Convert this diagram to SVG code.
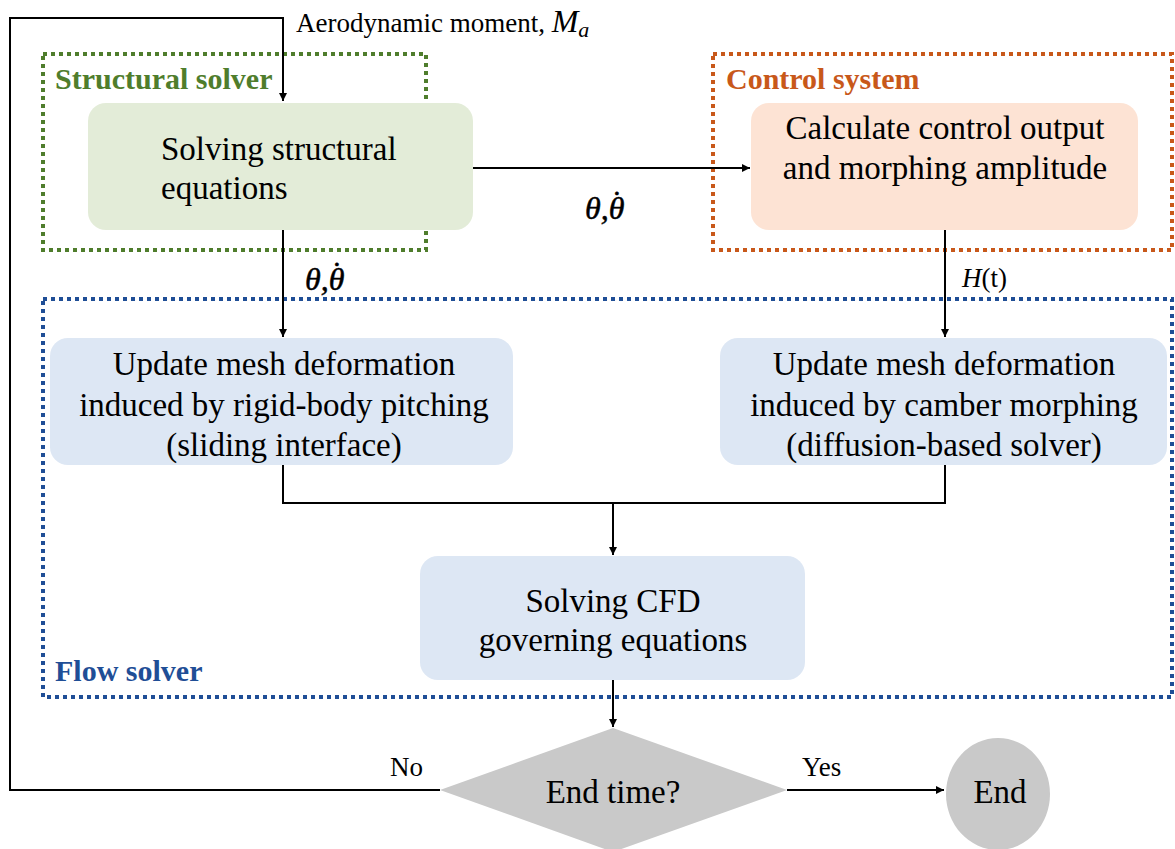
<svg xmlns="http://www.w3.org/2000/svg" width="1175" height="849" viewBox="0 0 1175 849" font-family="'Liberation Serif', 'DejaVu Serif', serif">
  <defs>
    <marker id="arrow" viewBox="0 0 10 10" refX="10" refY="5" markerWidth="8" markerHeight="8" markerUnits="userSpaceOnUse" orient="auto">
      <path d="M0,0 L10,5 L0,10 z" fill="#000"/>
    </marker>
    <style>
      text { font-family: "Liberation Serif", "DejaVu Serif", serif; fill: #000; }
      .t { font-size: 33px; text-anchor: middle; }
      .tl { font-size: 33px; }
      .lbl { font-size: 27px; }
      .grp { font-size: 30px; font-weight: bold; }
      .math { font-size: 32px; font-style: italic; stroke: #000; stroke-width: 0.5; }
      .edge { fill: none; stroke: #000; stroke-width: 2; }
      .frame { fill: none; stroke-width: 4; stroke-dasharray: 4 4; }
    </style>
  </defs>
  <rect width="1175" height="849" fill="#fff"/>

  <!-- group frames -->
  <g id="structural-frame">
    <rect class="frame" x="43" y="54" width="383" height="196" stroke="#4f7d2c"/>
    <text class="grp" x="55" y="89" style="fill:#4f7d2c">Structural solver</text>
  </g>
  <g id="control-frame">
    <rect class="frame" x="713" y="54" width="459" height="196" stroke="#c8581a"/>
    <text class="grp" x="726" y="89" style="fill:#c8581a">Control system</text>
  </g>
  <g id="flow-frame">
    <rect class="frame" x="43" y="299" width="1129" height="398" stroke="#1f4e96"/>
    <text class="grp" x="55" y="681" style="fill:#1f4e96">Flow solver</text>
  </g>

  <!-- connectors -->
  <g id="connectors">
    <path class="edge" d="M440,790 H10 V18 H283 V101" marker-end="url(#arrow)"/>
    <path class="edge" d="M473,168 H750" marker-end="url(#arrow)"/>
    <path class="edge" d="M283,230 V337" marker-end="url(#arrow)"/>
    <path class="edge" d="M945,230 V337" marker-end="url(#arrow)"/>
    <path class="edge" d="M283,465 V503 H945 V465"/>
    <path class="edge" d="M613,503 V555" marker-end="url(#arrow)"/>
    <path class="edge" d="M613,680 V727" marker-end="url(#arrow)"/>
    <path class="edge" d="M787,790 H944" marker-end="url(#arrow)"/>
    <text class="lbl" x="296" y="32" font-size="30">Aerodynamic moment, <tspan font-style="italic" font-size="32">M</tspan><tspan font-style="italic" font-size="22" dy="5">a</tspan></text>
    <!-- theta, theta-dot: the dot is set above the second theta -->
    <text class="math" x="585" y="219">θ,θ<tspan dx="-13" dy="-6" font-style="normal">˙</tspan></text>
    <text class="math" x="305" y="290">θ,θ<tspan dx="-13" dy="-6" font-style="normal">˙</tspan></text>
    <text class="lbl" x="962" y="287" font-size="28"><tspan font-style="italic">H</tspan>(t)</text>
    <text class="lbl" x="390" y="776">No</text>
    <text class="lbl" x="802" y="776">Yes</text>
  </g>

  <!-- nodes -->
  <g id="structural-node">
    <rect x="88" y="103" width="385" height="127" rx="18" fill="#e3ecd8"/>
    <text class="tl" x="161" y="160">Solving structural</text>
    <text class="tl" x="161" y="199">equations</text>
  </g>
  <g id="control-node">
    <rect x="751" y="103" width="387" height="127" rx="18" fill="#fde3d4"/>
    <text class="t" x="945" y="139">Calculate control output</text>
    <text class="t" x="945" y="179">and morphing amplitude</text>
  </g>
  <g id="pitch-mesh-node">
    <rect x="50" y="338" width="463" height="127" rx="18" fill="#dde7f4"/>
    <text class="t" x="284" y="375">Update mesh deformation</text>
    <text class="t" x="284" y="416">induced by rigid-body pitching</text>
    <text class="t" x="284" y="456">(sliding interface)</text>
  </g>
  <g id="camber-mesh-node">
    <rect x="720" y="338" width="447" height="127" rx="18" fill="#dde7f4"/>
    <text class="t" x="944" y="375">Update mesh deformation</text>
    <text class="t" x="944" y="416">induced by camber morphing</text>
    <text class="t" x="944" y="456">(diffusion-based solver)</text>
  </g>
  <g id="cfd-node">
    <rect x="420" y="556" width="385" height="124" rx="18" fill="#dde7f4"/>
    <text class="t" x="613" y="612">Solving CFD</text>
    <text class="t" x="613" y="651">governing equations</text>
  </g>
  <g id="end-time-node">
    <polygon points="440,790 613,728 787,790 613,852" fill="#c9c9c9"/>
    <text class="t" x="613" y="803">End time?</text>
  </g>
  <g id="end-node">
    <ellipse cx="998" cy="794" rx="52" ry="56" fill="#c9c9c9"/>
    <text class="t" x="1000" y="803">End</text>
  </g>
</svg>
